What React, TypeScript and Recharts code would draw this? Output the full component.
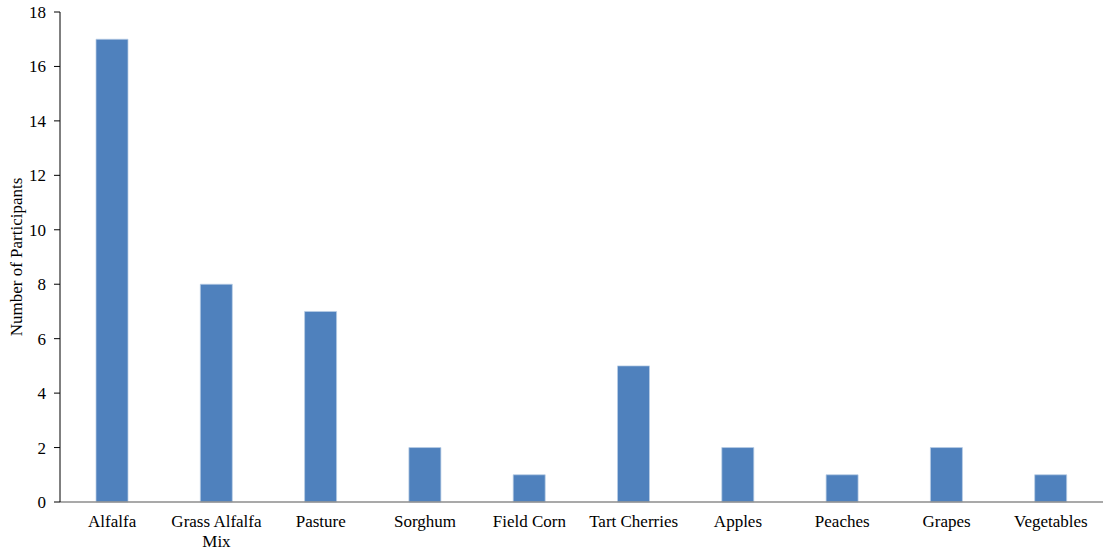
import { BarChart, Bar, XAxis, YAxis, Label } from "recharts";

const crops = [
  "Alfalfa",
  "Grass Alfalfa Mix",
  "Pasture",
  "Sorghum",
  "Field Corn",
  "Tart Cherries",
  "Apples",
  "Peaches",
  "Grapes",
  "Vegetables",
];
const participants = [17, 8, 7, 2, 1, 5, 2, 1, 2, 1];
const majorTicks = [0, 2, 4, 6, 8, 10, 12, 14, 16, 18];

// four minor divisions between each pair of major ticks
const minorTicks = majorTicks.flatMap((t, i) =>
  i === majorTicks.length - 1 ? [t] : [t, t + 0.4, t + 0.8, t + 1.2, t + 1.6]
);

// long category names break onto a second line
const lineBreaks: Record<string, string[]> = {
  "Grass Alfalfa Mix": ["Grass Alfalfa", "Mix"],
};

const data = crops.map((crop, i) => ({ crop, value: participants[i] }));

const FONT = "'Liberation Serif', 'Times New Roman', serif";

function CropTick({ x, y, payload }: any) {
  const lines = lineBreaks[payload.value] ?? [payload.value];
  return (
    <text
      x={x}
      y={y}
      textAnchor="middle"
      fontFamily={FONT}
      fontSize={17}
      fill="#000"
    >
      {lines.map((line, i) => (
        <tspan key={i} x={x} dy={i === 0 ? 17 : 20}>
          {line}
        </tspan>
      ))}
    </text>
  );
}

export default function App() {
  return (
    <div style={{ position: "absolute", left: 0, top: 0, background: "#fff" }}>
      <BarChart
        width={1107}
        height={551}
        data={data}
        margin={{ top: 12, right: 4, bottom: 0, left: 0 }}
        barSize={32}
      >
        <XAxis
          dataKey="crop"
          yAxisId="main"
          height={49}
          axisLine={{ stroke: "#8c8c8c", strokeWidth: 1.5 }}
          tickLine={false}
          tick={<CropTick />}
          interval={0}
        />
        <YAxis
          yAxisId="main"
          width={60}
          domain={[0, 18]}
          ticks={majorTicks}
          interval={0}
          axisLine={{ stroke: "#000", strokeWidth: 1 }}
          tickLine={{ stroke: "#000" }}
          tickSize={6}
          tickMargin={8}
          tick={{ fontFamily: FONT, fontSize: 17, fill: "#000" }}
        >
          <Label
            value="Number of Participants"
            angle={-90}
            position="insideLeft"
            offset={16}
            style={{
              fontFamily: FONT,
              fontSize: 17,
              fill: "#000",
              textAnchor: "middle",
            }}
          />
        </YAxis>
        <YAxis
          yAxisId="minor"
          mirror
          domain={[0, 18]}
          ticks={minorTicks}
          interval={0}
          axisLine={false}
          tickLine={{ stroke: "#000" }}
          tickSize={3}
          tick={false}
        />
        <Bar
          yAxisId="main"
          dataKey="value"
          fill="#4f81bd"
          stroke="#b9cde5"
          strokeWidth={0.75}
          isAnimationActive={false}
        />
      </BarChart>
    </div>
  );
}
